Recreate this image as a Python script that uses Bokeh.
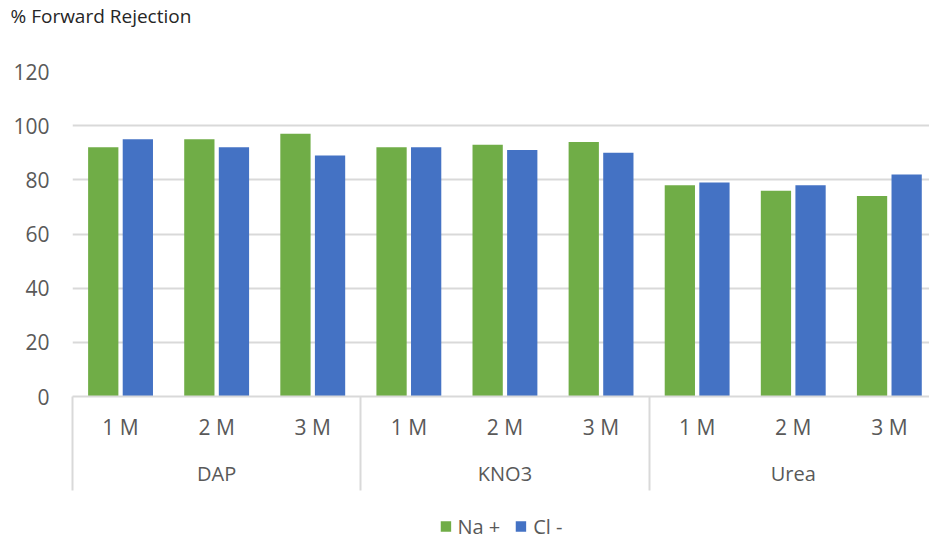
from bokeh.plotting import figure
from bokeh.layouts import column
from bokeh.models import (ColumnDataSource, Range1d, FixedTicker, LinearAxis,
                          Legend, LegendItem, Title)
from bokeh.embed import file_html
from bokeh.resources import INLINE

# ---- data ----
groups = ["DAP", "KNO3", "Urea"]
concentrations = ["1 M", "2 M", "3 M"]
na_plus = [92, 95, 97, 92, 93, 94, 78, 76, 74]
cl_minus = [95, 92, 89, 92, 91, 90, 79, 78, 82]
y_ticks = [0, 20, 40, 60, 80, 100, 120]
series_names = ["Na +", "Cl -"]

FONT = "Open Sans"
LABEL_COLOR = "#595959"
GRID_COLOR = "#D9D9D9"
GREEN = "#70AD47"
BLUE = "#4472C4"

n_sub = len(concentrations)
n_cat = len(groups) * n_sub
positions = [i + 0.5 for i in range(n_cat)]
sub_labels = {p: concentrations[i % n_sub] for i, p in enumerate(positions)}
group_pos = [g * n_sub + n_sub / 2 for g in range(len(groups))]
group_labels = {p: groups[i] for i, p in enumerate(group_pos)}
separators = [g * n_sub for g in range(len(groups) + 1)]

offset = 0.18
bw = 0.315
src = ColumnDataSource(dict(
    x_na=[p - offset for p in positions],
    x_cl=[p + offset for p in positions],
    na=na_plus, cl=cl_minus,
))

p = figure(width=929, height=496, output_backend="svg", toolbar_location=None,
           x_range=Range1d(0, 857 / 96.1), y_range=Range1d(0, 120),
           x_axis_location=None, y_axis_location=None,
           min_border_left=72, min_border_right=0, min_border_top=0,
           min_border_bottom=100, outline_line_color=None)
p.title = None

title = Title(text="% Forward Rejection\n\n", align="left", offset=-62,
              vertical_align="top", standoff=4, text_line_height=0.75,
              text_font=FONT, text_font_size="19px", text_font_style="normal",
              text_color="#262626")
p.add_layout(title, "above")

p.vbar(x="x_na", top="na", width=bw, source=src, fill_color=GREEN,
       line_color=None)
p.vbar(x="x_cl", top="cl", width=bw, source=src, fill_color=BLUE,
       line_color=None)

# y axis
yax = LinearAxis(ticker=FixedTicker(ticks=y_ticks, minor_ticks=[]),
                 axis_line_color=None, major_tick_line_color=None,
                 minor_tick_line_color=None,
                 major_label_text_font=FONT, major_label_text_font_size="21px",
                 major_label_text_color=LABEL_COLOR, major_label_standoff=17)
p.add_layout(yax, "left")

# sub-category axis
xax = LinearAxis(ticker=FixedTicker(ticks=positions, minor_ticks=[]),
                 major_label_overrides=sub_labels,
                 axis_line_color=GRID_COLOR, axis_line_width=2,
                 major_tick_line_color=None, minor_tick_line_color=None,
                 major_label_text_font=FONT, major_label_text_font_size="21px",
                 major_label_text_color=LABEL_COLOR, major_label_standoff=10)
p.add_layout(xax, "below")

# group axis with separators
gax = LinearAxis(ticker=FixedTicker(ticks=group_pos, minor_ticks=separators),
                 major_label_overrides=group_labels,
                 axis_line_color=None, major_tick_line_color=None,
                 minor_tick_line_color=GRID_COLOR, minor_tick_line_width=2,
                 minor_tick_in=47, minor_tick_out=47,
                 major_label_text_font=FONT, major_label_text_font_size="20px",
                 major_label_text_color=LABEL_COLOR, major_label_standoff=-31)
p.add_layout(gax, "below")

p.xgrid.visible = False
p.ygrid.ticker = FixedTicker(ticks=y_ticks)
p.ygrid.grid_line_color = GRID_COLOR
p.ygrid.grid_line_width = 2

# legend strip (zero-height swatch renderers carry the series colours)
lg = figure(width=929, height=44, output_backend="svg", toolbar_location=None,
            x_range=Range1d(0, 1), y_range=Range1d(0, 1),
            x_axis_location=None, y_axis_location=None,
            min_border_left=10, min_border_right=0, min_border_top=16,
            min_border_bottom=0, outline_line_color=None)
lg.grid.visible = False
swatch = ColumnDataSource(dict(x=[0.5], top=[0]))
g_na = lg.vbar(x="x", top="top", width=0.1, source=swatch, fill_color=GREEN,
               line_color=None)
g_cl = lg.vbar(x="x", top="top", width=0.1, source=swatch, fill_color=BLUE,
               line_color=None)
legend = Legend(items=[LegendItem(label=series_names[0], renderers=[g_na]),
                       LegendItem(label=series_names[1], renderers=[g_cl])],
                orientation="horizontal", location="center",
                label_text_font=FONT, label_text_font_size="20px",
                label_text_color=LABEL_COLOR, glyph_width=13, glyph_height=13,
                label_standoff=6, spacing=14, border_line_color=None,
                background_fill_alpha=0, margin=0, padding=2)
lg.add_layout(legend)

layout = column(p, lg, spacing=0)
open("out.html", "w").write(file_html(layout, INLINE))
